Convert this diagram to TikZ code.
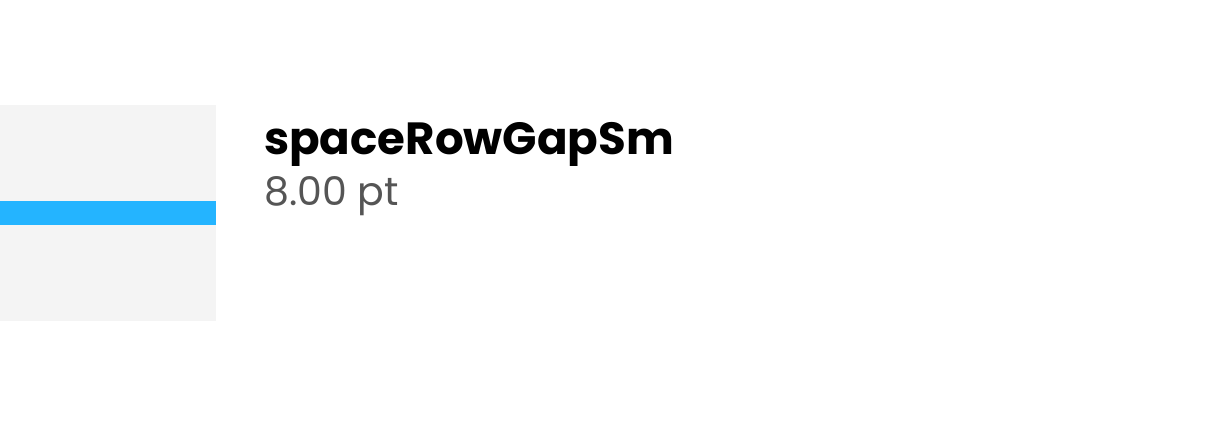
\documentclass[tikz,border=0pt]{standalone}
\usepackage{fontspec}
\setmainfont{Poppins}
\definecolor{swatchbg}{HTML}{F4F4F4}
\definecolor{swatchbar}{HTML}{24B4FF}
\definecolor{valgray}{HTML}{555555}
\begin{document}
\begin{tikzpicture}[x=1pt,y=1pt,
  title/.style={anchor=base west,inner sep=0pt,font=\bfseries\fontsize{45.1}{50}\selectfont},
  value/.style={anchor=base west,inner sep=0pt,text=valgray,font=\fontsize{39.5}{44}\selectfont}]
\useasboundingbox (0,0) rectangle (1206,426);
\fill[swatchbg] (0,426-321) rectangle (216,426-105);
\fill[swatchbar] (0,426-225) rectangle (216,426-201);
\node[title] (name) at (264,426-155) {spaceRowGapSm};
\node[value] (val) at (264,426-206) {8.00 pt};
\end{tikzpicture}
\end{document}
